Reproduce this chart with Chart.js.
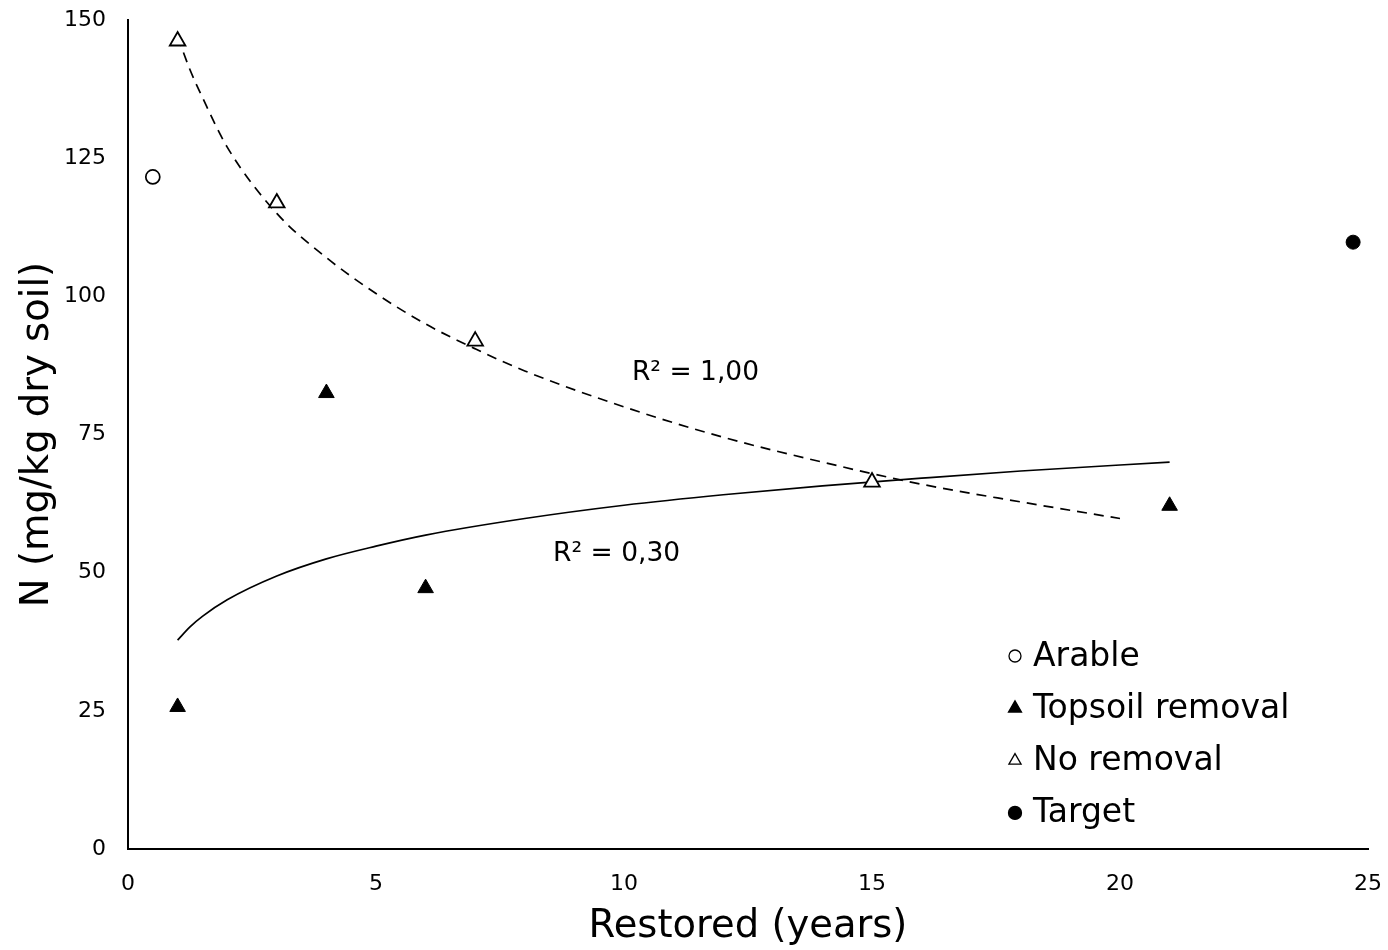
<!DOCTYPE html>
<html>
<head>
<meta charset="utf-8">
<script src="https://cdn.jsdelivr.net/npm/chart.js@4/dist/chart.umd.min.js"></script>
<style>
  html, body { margin: 0; padding: 0; background: #fff; }
  #wrap { width: 1388px; height: 950px; }
</style>
</head>
<body>
<div id="wrap"><canvas id="myChart" width="1388" height="950"></canvas></div>
<script>
const FONT = '"DejaVu Sans", Verdana, sans-serif';

// measured points (years restored, N mg/kg)
const arableX = [0.5];
const arableY = [121.6];
const topsoilX = [1, 4, 6, 21];
const topsoilY = [25.7, 82.5, 47.2, 62.1];
const noRemovalX = [1, 3, 7, 15];
const noRemovalY = [146.2, 116.9, 91.9, 66.4];
const targetX = [24.7];
const targetY = [109.8];

// trend curves
const noRemovalTrendX = [1, 1.25, 1.5, 2, 3, 4, 5, 6, 7, 8, 10, 12, 14, 16, 18, 20];
const noRemovalTrendY = [147, 141, 136, 127, 115, 107, 100.5, 95, 90.5, 86.5, 80, 74.5, 70, 66, 62.8, 59.8];
const topsoilTrendX = [1, 1.25, 1.5, 2, 3, 4, 5, 6, 8, 10, 12, 14, 16, 18, 21];
const topsoilTrendY = [37.8, 40.2, 42.1, 45.1, 49.4, 52.5, 54.8, 56.8, 59.8, 62.2, 64.1, 65.7, 67.1, 68.4, 70];

// R² annotations: [text, x, y]
const r2Labels = [
  ['R² = 1,00', 10.16, 86.1],
  ['R² = 0,30', 8.57, 53.4]
];

const toPoints = (xs, ys) => xs.map((x, i) => ({ x: x, y: ys[i] }));

function trend(data, dashed) {
  return {
    type: 'line',
    data: data,
    showLine: true,
    borderColor: '#000',
    borderWidth: 1.7,
    borderDash: dashed ? [10, 7] : [],
    pointRadius: 0,
    cubicInterpolationMode: 'monotone',
    fill: false,
    legend: false
  };
}

// legend drawn inside the plot area, lower right
const innerLegend = {
  id: 'innerLegend',
  afterDraw(chart) {
    const ctx = chart.ctx;
    const area = chart.chartArea;
    const items = chart.data.datasets.filter(d => d.legend !== false);
    const x0 = area.left + 887;
    let y = area.top + 636;
    ctx.save();
    ctx.font = '33px ' + FONT;
    ctx.textBaseline = 'middle';
    items.forEach(d => {
      ctx.fillStyle = d.backgroundColor;
      ctx.strokeStyle = '#000';
      ctx.lineWidth = 1.3;
      Chart.helpers.drawPoint(ctx, {
        pointStyle: d.pointStyle,
        radius: d.legendRadius,
        borderWidth: 1.3,
        rotation: 0
      }, x0, y);
      ctx.fillStyle = '#000';
      ctx.fillText(d.label, x0 + 18, y + 1);
      y += 52.3;
    });
    ctx.restore();
  }
};

const r2Plugin = {
  id: 'r2Text',
  afterDatasetsDraw(chart) {
    const ctx = chart.ctx;
    const xs = chart.scales.x, ys = chart.scales.y;
    ctx.save();
    ctx.font = '26.5px ' + FONT;
    ctx.fillStyle = '#000';
    ctx.textBaseline = 'middle';
    ctx.textAlign = 'left';
    r2Labels.forEach(l => ctx.fillText(l[0], xs.getPixelForValue(l[1]), ys.getPixelForValue(l[2])));
    ctx.restore();
  }
};

// invisible tick marks keep the labels clear of the axis lines
const hiddenTicks = { drawOnChartArea: false, drawTicks: true, tickLength: 22, color: 'rgba(0,0,0,0)' };

const ctx = document.getElementById('myChart').getContext('2d');
const myChart = new Chart(ctx, {
  type: 'scatter',
  data: {
    datasets: [
      {
        label: 'Arable',
        data: toPoints(arableX, arableY),
        pointStyle: 'circle',
        pointRadius: 7,
        legendRadius: 6,
        backgroundColor: '#fff',
        borderColor: '#000',
        borderWidth: 1.7
      },
      {
        label: 'Topsoil removal',
        data: toPoints(topsoilX, topsoilY),
        pointStyle: 'triangle',
        pointRadius: 9,
        legendRadius: 7.5,
        backgroundColor: '#000',
        borderColor: '#000',
        borderWidth: 1
      },
      {
        label: 'No removal',
        data: toPoints(noRemovalX, noRemovalY),
        pointStyle: 'triangle',
        pointRadius: 9,
        legendRadius: 7,
        backgroundColor: '#fff',
        borderColor: '#000',
        borderWidth: 1.8
      },
      {
        label: 'Target',
        data: toPoints(targetX, targetY),
        pointStyle: 'circle',
        pointRadius: 7,
        legendRadius: 6.5,
        backgroundColor: '#000',
        borderColor: '#000',
        borderWidth: 1
      },
      trend(toPoints(noRemovalTrendX, noRemovalTrendY), true),
      trend(toPoints(topsoilTrendX, topsoilTrendY), false)
    ]
  },
  options: {
    responsive: false,
    animation: false,
    layout: { autoPadding: false, padding: { top: 20, right: 20, left: 0, bottom: 0 } },
    plugins: {
      legend: { display: false },
      tooltip: { enabled: false }
    },
    scales: {
      x: {
        type: 'linear',
        min: 0,
        max: 25,
        ticks: { stepSize: 5, color: '#000', font: { size: 22, family: FONT }, padding: 0 },
        grid: hiddenTicks,
        border: { display: true, color: '#000', width: 2 },
        title: { display: true, text: 'Restored (years)', color: '#000', font: { size: 38.5, family: FONT }, padding: { top: 0, bottom: 0 } },
        afterFit: s => { s.height = 101; }
      },
      y: {
        type: 'linear',
        min: 0,
        max: 150,
        ticks: { stepSize: 25, color: '#000', font: { size: 22, family: FONT }, padding: 0 },
        grid: hiddenTicks,
        border: { display: true, color: '#000', width: 2 },
        title: { display: true, text: 'N (mg/kg dry soil)', color: '#000', font: { size: 38.5, family: FONT }, padding: { top: 15, bottom: 0 } },
        afterFit: s => { s.width = 128; }
      }
    }
  },
  plugins: [r2Plugin, innerLegend]
});
</script>
</body>
</html>
